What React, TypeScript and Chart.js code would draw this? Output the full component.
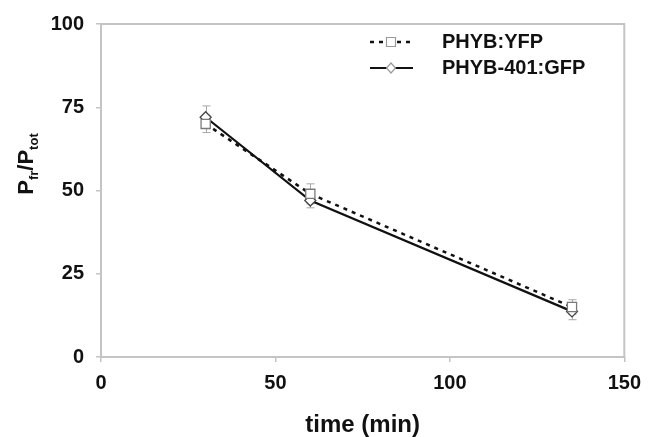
import React, { useEffect, useRef } from "react";
import { Chart, registerables } from "chart.js";

Chart.register(...registerables);

const times = [30, 60, 135];
const yfpValues = [70, 49, 15];
const yfpErrors = [2.6, 3, 2.2];
const gfpValues = [72, 47, 13.7];
const gfpErrors = [3.4, 2.2, 2.5];
const seriesLabels = ["PHYB:YFP", "PHYB-401:GFP"];
const xTitle = "time (min)";
const yTitleParts = [
  { t: "P", sub: false },
  { t: "fr", sub: true },
  { t: "/P", sub: false },
  { t: "tot", sub: true },
];

const FONT = "'Liberation Sans', Arial, sans-serif";
const AXIS_GRAY = "#c4c4c4";
const INK = "#111111";
const MARKER_GRAY = "#7a7a7a";

const errorBarPlugin = {
  id: "errorBars",
  beforeDatasetsDraw(chart: any) {
    const { ctx } = chart;
    const xs = chart.scales.x;
    const ys = chart.scales.y;
    ctx.save();
    ctx.strokeStyle = "#a8a8a8";
    ctx.lineWidth = 1;
    chart.data.datasets.forEach((ds: any) => {
      const errs: number[] = ds.errors || [];
      ds.data.forEach((p: any, i: number) => {
        const e = errs[i];
        if (e == null) return;
        const px = Math.round(xs.getPixelForValue(p.x)) + 0.5;
        const top = ys.getPixelForValue(p.y + e);
        const bot = ys.getPixelForValue(p.y - e);
        const cap = 4;
        ctx.beginPath();
        ctx.moveTo(px, top);
        ctx.lineTo(px, bot);
        ctx.moveTo(px - cap, top);
        ctx.lineTo(px + cap, top);
        ctx.moveTo(px - cap, bot);
        ctx.lineTo(px + cap, bot);
        ctx.stroke();
      });
    });
    ctx.restore();
  },
};

const framePlugin = {
  id: "frame",
  beforeDatasetsDraw(chart: any) {
    const { ctx, chartArea: a } = chart;
    ctx.save();
    ctx.strokeStyle = AXIS_GRAY;
    ctx.lineWidth = 2;
    ctx.beginPath();
    ctx.moveTo(a.left, a.top);
    ctx.lineTo(a.right, a.top);
    ctx.lineTo(a.right, a.bottom);
    ctx.stroke();
    ctx.restore();
  },
};

const yTitlePlugin = {
  id: "yTitle",
  afterDraw(chart: any) {
    const { ctx } = chart;
    const big = `bold 22px ${FONT}`;
    const small = `bold 13px ${FONT}`;
    ctx.save();
    let w = 0;
    yTitleParts.forEach((p) => {
      ctx.font = p.sub ? small : big;
      w += ctx.measureText(p.t).width;
    });
    ctx.translate(33, 164);
    ctx.rotate(-Math.PI / 2);
    ctx.fillStyle = INK;
    ctx.textBaseline = "alphabetic";
    ctx.textAlign = "left";
    let x = -w / 2;
    yTitleParts.forEach((p) => {
      ctx.font = p.sub ? small : big;
      ctx.fillText(p.t, x, p.sub ? 5 : 0);
      x += ctx.measureText(p.t).width;
    });
    ctx.restore();
  },
};

const legendPlugin = {
  id: "customLegend",
  afterDraw(chart: any) {
    const { ctx } = chart;
    const rows = [42, 68];
    ctx.save();
    chart.data.datasets.forEach((ds: any, i: number) => {
      const y = rows[i];
      const x0 = 370;
      const x1 = 413;
      const xm = 391;
      ctx.strokeStyle = INK;
      ctx.lineWidth = ds.borderWidth;
      ctx.setLineDash(ds.borderDash || []);
      ctx.beginPath();
      ctx.moveTo(x0, y);
      ctx.lineTo(x1, y);
      ctx.stroke();
      ctx.setLineDash([]);
      ctx.fillStyle = "#ffffff";
      ctx.strokeStyle = "#9a9a9a";
      ctx.lineWidth = 1.2;
      ctx.beginPath();
      if (ds.pointStyle === "rect") {
        ctx.rect(xm - 4.5, y - 4.5, 9, 9);
      } else {
        ctx.moveTo(xm, y - 5);
        ctx.lineTo(xm + 4.5, y);
        ctx.lineTo(xm, y + 5);
        ctx.lineTo(xm - 4.5, y);
        ctx.closePath();
      }
      ctx.fill();
      ctx.stroke();
      ctx.fillStyle = INK;
      ctx.font = `bold 20px ${FONT}`;
      ctx.textBaseline = "middle";
      ctx.textAlign = "left";
      ctx.fillText(ds.label, 442, y);
    });
    ctx.restore();
  },
};

export default function App() {
  const canvasRef = useRef<HTMLCanvasElement | null>(null);

  useEffect(() => {
    if (!canvasRef.current) return;
    const chart = new Chart(canvasRef.current, {
      type: "line",
      data: {
        datasets: [
          {
            label: seriesLabels[0],
            data: times.map((t, i) => ({ x: t, y: yfpValues[i] })),
            errors: yfpErrors,
            borderColor: INK,
            borderWidth: 2.5,
            borderDash: [4, 5],
            pointStyle: "rect",
            pointRadius: 6.5,
            pointBorderColor: MARKER_GRAY,
            pointBackgroundColor: "#ffffff",
            pointBorderWidth: 1.3,
            tension: 0,
          } as any,
          {
            label: seriesLabels[1],
            data: times.map((t, i) => ({ x: t, y: gfpValues[i] })),
            errors: gfpErrors,
            borderColor: INK,
            borderWidth: 2.2,
            pointStyle: "rectRot",
            pointRadius: 5.5,
            pointBorderColor: "#444444",
            pointBackgroundColor: "#ffffff",
            pointBorderWidth: 1.3,
            tension: 0,
          } as any,
        ],
      },
      options: {
        animation: false,
        responsive: false,
        maintainAspectRatio: false,
        layout: { padding: { left: 0, right: 25, top: 17, bottom: 0 } },
        plugins: {
          legend: { display: false },
          tooltip: { enabled: false },
        },
        scales: {
          x: {
            type: "linear",
            min: 0,
            max: 150,
            afterFit: (s: any) => {
              s.height = 80;
            },
            ticks: {
              stepSize: 50,
              color: INK,
              font: { family: FONT, size: 20, weight: "bold" },
              padding: 9,
            },
            grid: {
              drawOnChartArea: false,
              drawTicks: true,
              tickLength: 5,
              tickColor: AXIS_GRAY,
              lineWidth: 1.5,
            },
            border: { color: AXIS_GRAY, width: 2 },
            title: {
              display: true,
              text: xTitle,
              color: INK,
              font: { family: FONT, size: 24, weight: "bold", lineHeight: 1 },
              padding: { top: 0, bottom: 0 },
            },
          },
          y: {
            type: "linear",
            min: 0,
            max: 100,
            afterFit: (s: any) => {
              s.width = 101;
            },
            ticks: {
              stepSize: 25,
              color: INK,
              font: { family: FONT, size: 20, weight: "bold" },
              padding: 12,
            },
            grid: {
              drawOnChartArea: false,
              drawTicks: true,
              tickLength: 5,
              tickColor: AXIS_GRAY,
              lineWidth: 1.5,
            },
            border: { color: AXIS_GRAY, width: 2 },
          },
        },
      } as any,
      plugins: [framePlugin, errorBarPlugin, yTitlePlugin, legendPlugin],
    });
    return () => chart.destroy();
  }, []);

  return (
    <div style={{ position: "fixed", left: 0, top: 0, width: 650, height: 437, background: "#ffffff" }}>
      <canvas ref={canvasRef} width={650} height={437} style={{ display: "block" }} />
    </div>
  );
}
